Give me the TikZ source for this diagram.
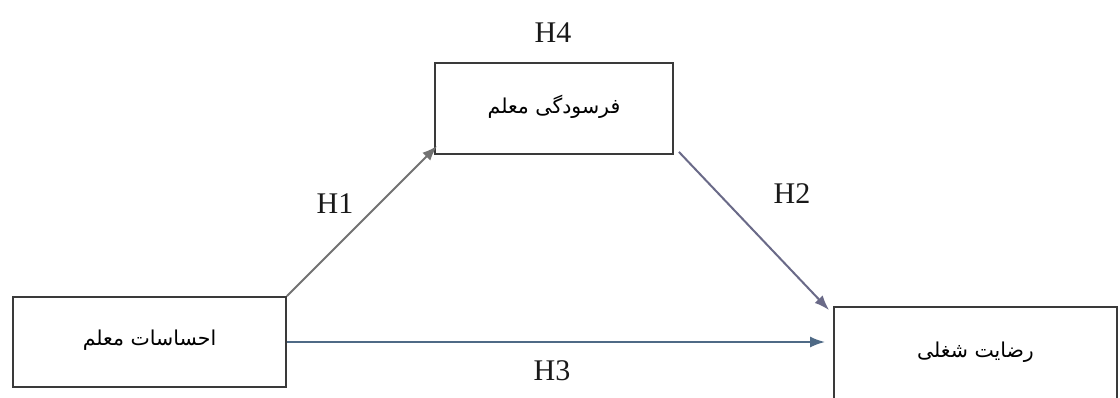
\documentclass[tikz,border=0pt]{standalone}
\usepackage{fontspec}
\setmainfont{Liberation Serif}
\newfontfamily\arabicfont[Script=Arabic]{DejaVu Sans}
\TeXXeTstate=1
\usetikzlibrary{arrows.meta}
\definecolor{boxline}{HTML}{3A3A3A}
\definecolor{arrowA}{HTML}{727272}
\definecolor{arrowB}{HTML}{6A6A88}
\definecolor{arrowC}{HTML}{4F6A86}
\tikzset{
  varbox/.style={draw=boxline, line width=1.8pt, fill=white, inner sep=0pt, font=\arabicfont\fontsize{20.5}{24}\selectfont},
  hyp/.style={font=\fontsize{30}{34}\selectfont, text=black!90},
  conn/.style={line width=2pt, -{Latex[length=15pt,width=11pt]}}
}
\begin{document}
\begin{tikzpicture}[x=1pt,y=-1pt]
\useasboundingbox (0,0) rectangle (1120,397);
\fill[white] (0,0) rectangle (1120,397);
\begin{scope}
\clip (0,0) rectangle (1120,397);
\node[varbox, minimum width=273pt, minimum height=90pt] (L) at (149.5,342) {\raisebox{9pt}{\beginR احساسات معلم\endR}};
\node[varbox, minimum width=238pt, minimum height=91pt] (T) at (554,108.5) {\raisebox{9pt}{\beginR فرسودگی معلم\endR}};
\node[varbox, minimum width=283pt, minimum height=94pt] (R) at (975.5,354) {\raisebox{8pt}{\beginR رضایت شغلی\endR}};
\end{scope}
\node[hyp] (h4) at (553,33) {H4};
\node[hyp] (h1) at (335,204) {H1};
\node[hyp] (h2) at (792,194) {H2};
\node[hyp] (h3) at (552,371) {H3};
\draw[conn, draw=arrowA, arrowA] (L.north east) -- ([shift={(3pt,9pt)}]T.south west);
\draw[conn, draw=arrowB, arrowB] ([shift={(5pt,3pt)}]T.south east) -- ([shift={(-4pt,-4pt)}]R.north west);
\draw[conn, draw=arrowC, arrowC] (L.east) -- ([xshift=-8pt]R.west |- L.east);
\end{tikzpicture}
\end{document}
